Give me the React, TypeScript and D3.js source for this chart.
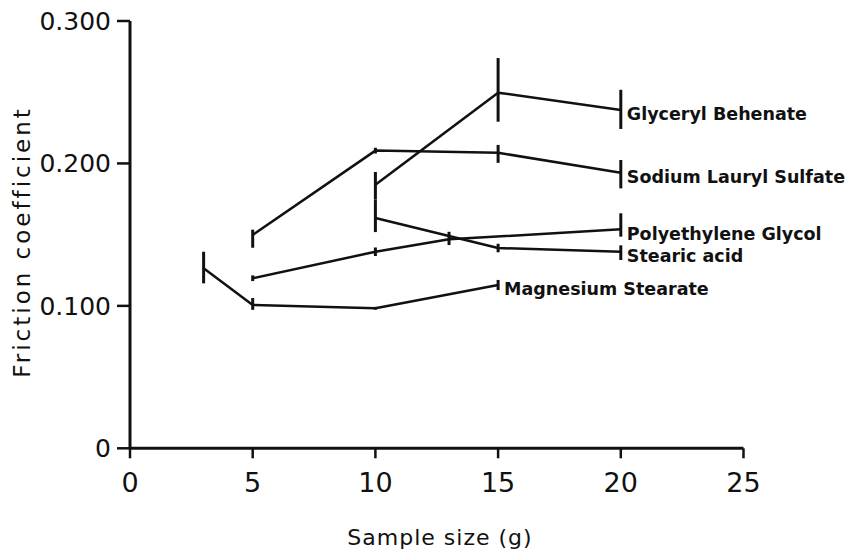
import React from "react";
import * as d3 from "d3";

const W = 850;
const H = 555;

// Series data (x = sample size g, y = friction coefficient, lo/hi = error bar ends)
const glycerylName = "Glyceryl Behenate";
const glycerylX = [10, 15, 20];
const glycerylY = [0.185, 0.2497, 0.2375];
const glycerylLo = [0.1745, 0.2293, 0.2242];
const glycerylHi = [0.194, 0.274, 0.2517];

const sodiumName = "Sodium Lauryl Sulfate";
const sodiumX = [5, 10, 15, 20];
const sodiumY = [0.1498, 0.209, 0.2075, 0.1935];
const sodiumLo = [0.1408, 0.207, 0.2004, 0.1825];
const sodiumHi = [0.1535, 0.211, 0.213, 0.2024];

const polyName = "Polyethylene Glycol";
const polyX = [5, 10, 13, 20];
const polyY = [0.1194, 0.138, 0.1467, 0.1538];
const polyLo = [0.1174, 0.135, 0.1427, 0.1486];
const polyHi = [0.1214, 0.141, 0.152, 0.165];

const stearicName = "Stearic acid";
const stearicX = [10, 15, 20];
const stearicY = [0.1617, 0.1406, 0.138];
const stearicLo = [0.1518, 0.1376, 0.1322];
const stearicHi = [0.1743, 0.1436, 0.1425];

const magName = "Magnesium Stearate";
const magX = [3, 5, 10, 15];
const magY = [0.1264, 0.1006, 0.0983, 0.1147];
const magLo = [0.1158, 0.0972, 0.0973, 0.1111];
const magHi = [0.138, 0.1055, 0.0993, 0.1182];

const xTicks = [0, 5, 10, 15, 20, 25];
const yTicks = [0, 0.1, 0.2, 0.3];
const yTickLabels = ["0", "0.100", "0.200", "0.300"];
const xTitle = "Sample size (g)";
const yTitle = "Friction coefficient";

const series = [
  { name: glycerylName, x: glycerylX, y: glycerylY, lo: glycerylLo, hi: glycerylHi },
  { name: sodiumName, x: sodiumX, y: sodiumY, lo: sodiumLo, hi: sodiumHi },
  { name: polyName, x: polyX, y: polyY, lo: polyLo, hi: polyHi },
  { name: stearicName, x: stearicX, y: stearicY, lo: stearicLo, hi: stearicHi },
  { name: magName, x: magX, y: magY, lo: magLo, hi: magHi },
];

export default function App() {
  const xScale = d3.scaleLinear().domain([0, 25]).range([130, 743.5]);
  const yScale = d3.scaleLinear().domain([0, 0.3]).range([448.3, 21]);
  const line = d3
    .line<[number, number]>()
    .x((d) => xScale(d[0]))
    .y((d) => yScale(d[1]));

  const font = "'DejaVu Sans', sans-serif";
  const ink = "#111";

  return (
    <svg
      width={W}
      height={H}
      style={{ position: "absolute", left: 0, top: 0, background: "#fff" }}
    >
      {/* axes */}
      <line x1={xScale(0)} x2={xScale(0)} y1={yScale(0.3)} y2={yScale(0)} stroke={ink} strokeWidth={3} />
      <line x1={xScale(0)} x2={xScale(25)} y1={yScale(0)} y2={yScale(0)} stroke={ink} strokeWidth={3} />
      {yTicks.map((t, i) => (
        <g key={"yt" + i}>
          <line x1={xScale(0) - 13} x2={xScale(0)} y1={yScale(t)} y2={yScale(t)} stroke={ink} strokeWidth={2.5} />
          <text
            x={xScale(0) - 19}
            y={yScale(t)}
            dy="0.36em"
            textAnchor="end"
            fontFamily={font}
            fontSize={25}
            fill={ink}
          >
            {yTickLabels[i]}
          </text>
        </g>
      ))}
      {xTicks.map((t) => (
        <g key={"xt" + t}>
          <line x1={xScale(t)} x2={xScale(t)} y1={yScale(0)} y2={yScale(0) + 10} stroke={ink} strokeWidth={2.5} />
          <text
            x={xScale(t)}
            y={482}
            dy="0.36em"
            textAnchor="middle"
            fontFamily={font}
            fontSize={27}
            fill={ink}
          >
            {t}
          </text>
        </g>
      ))}
      <text x={440} y={537} dy="0.36em" textAnchor="middle" fontFamily={font} fontSize={22} letterSpacing={1} fill={ink}>
        {xTitle}
      </text>
      <text
        transform={`translate(22,242) rotate(-90)`}
        dy="0.36em"
        textAnchor="middle"
        fontFamily={font}
        fontSize={23}
        letterSpacing={3}
        fill={ink}
      >
        {yTitle}
      </text>

      {/* series */}
      {series.map((s) => {
        const pts: [number, number][] = s.x.map((xv, i) => [xv, s.y[i]]);
        const last = s.x.length - 1;
        return (
          <g key={s.name}>
            <path d={line(pts) || ""} fill="none" stroke={ink} strokeWidth={2.5} strokeLinejoin="round" />
            {s.x.map((xv, i) => (
              <line
                key={i}
                x1={xScale(xv)}
                x2={xScale(xv)}
                y1={yScale(s.lo[i])}
                y2={yScale(s.hi[i])}
                stroke={ink}
                strokeWidth={3}
              />
            ))}
            <text
              x={xScale(s.x[last]) + 6}
              y={yScale(s.y[last]) + 4}
              dy="0.36em"
              fontFamily={font}
              fontSize={17.5}
              fontWeight="bold"
              fill={ink}
            >
              {s.name}
            </text>
          </g>
        );
      })}
    </svg>
  );
}
